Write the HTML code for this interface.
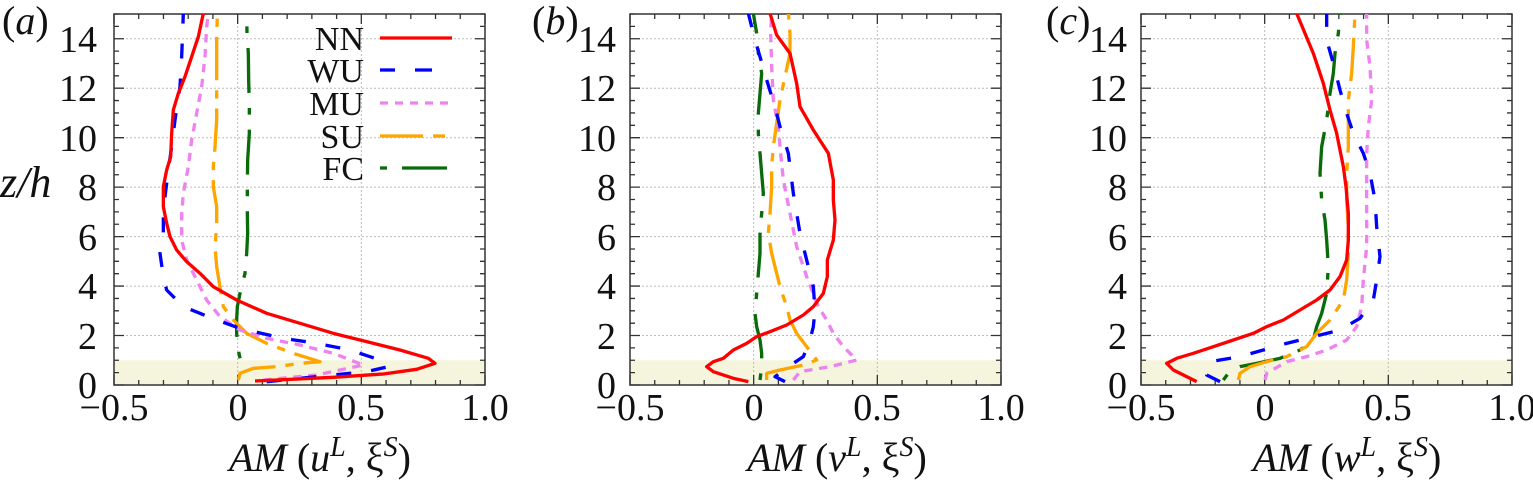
<!DOCTYPE html>
<html><head><meta charset="utf-8"><style>
html,body{margin:0;padding:0;background:#fff;}
svg{display:block;}
text{font-family:"Liberation Serif","Times New Roman",serif;fill:#111;}
.t{font-size:38px;}
.it{font-style:italic;}
</style></head><body>
<svg id="s" width="1533" height="483" viewBox="0 0 1533 483" xmlns="http://www.w3.org/2000/svg" font-family="Liberation Serif, serif">
<defs>
<clipPath id="ca"><rect x="342" y="42" width="1113" height="1113"/></clipPath>
<clipPath id="cb"><rect x="150" y="42" width="1115" height="1113"/></clipPath>
<clipPath id="cc"><rect x="122" y="42" width="1115" height="1113"/></clipPath>
</defs>
<g id="frames"></g>

<g transform="scale(0.3333333)" clip-path="url(#ca)" fill="none" stroke-linejoin="round">
<polyline stroke="#0a6b0a" stroke-width="10" stroke-dasharray="20 45 135 45" points="720,1075 715,1050 710,1000 710,960 712,920 720,880 735,820 740,760 743,700 742,640 742,560 743,480 748,400 748,320 746,240 745,160 741,100 740,40"/>
<polyline stroke="#ffa500" stroke-width="10" stroke-dasharray="130 30 25 30" points="715,1140 720,1120 760,1105 830,1100 900,1090 960,1085 880,1060 800,1030 740,1000 700,960 670,920 660,860 650,800 645,740 650,680 650,620 640,560 640,500 645,440 650,360 650,280 650,200 650,120 652,40"/>
<polyline stroke="#ee82ee" stroke-width="10" stroke-dasharray="25 20" points="790,1140 950,1125 1090,1095 1000,1060 900,1035 800,1015 720,990 660,950 620,900 590,840 560,780 545,720 545,640 550,580 565,500 575,420 590,340 605,260 615,170 620,80 625,40"/>
<polyline stroke="#0000ff" stroke-width="10" stroke-dasharray="45 60" points="800,1145 950,1130 1100,1115 1165,1100 1140,1080 1050,1050 950,1030 850,1015 720,985 650,960 550,920 500,870 490,830 480,760 490,700 490,640 495,590 505,510 515,440 525,360 540,260 545,170 550,40"/>
<polyline stroke="#ff0000" stroke-width="10" points="765,1143 1000,1132 1150,1122 1250,1108 1305,1090 1285,1075 1200,1050 1100,1025 1000,1000 900,970 800,940 710,900 640,860 600,820 560,785 530,750 510,710 500,670 490,620 490,560 500,510 512,470 515,400 520,330 535,280 555,230 575,170 595,110 610,40"/>
</g>

<g transform="translate(580,0) scale(0.3333333)" clip-path="url(#cb)" fill="none" stroke-linejoin="round">
<polyline stroke="#0a6b0a" stroke-width="10" stroke-dasharray="20 45 135 45" points="540,1140 545,1100 545,1060 540,1020 530,980 525,940 530,880 535,820 540,760 540,700 545,640 550,580 545,520 540,460 535,400 535,340 540,280 545,220 535,160 530,100 520,40"/>
<polyline stroke="#ffa500" stroke-width="10" stroke-dasharray="130 30 25 30" points="560,1140 560,1120 600,1110 670,1095 710,1080 680,1040 650,1000 630,960 620,920 600,860 575,760 565,700 570,640 575,560 575,500 580,440 590,370 600,300 615,230 630,160 630,100 625,40"/>
<polyline stroke="#ee82ee" stroke-width="10" stroke-dasharray="25 20" points="640,1140 660,1115 750,1100 830,1080 790,1040 760,1000 740,960 715,920 680,830 650,740 630,640 610,540 600,440 595,380 580,300 575,200 572,100 575,40"/>
<polyline stroke="#0000ff" stroke-width="10" stroke-dasharray="45 60" points="615,1145 585,1130 640,1090 670,1070 690,1020 700,980 705,930 700,860 680,780 660,700 640,580 625,460 600,380 585,320 560,240 540,170 525,120 505,40"/>
<polyline stroke="#ff0000" stroke-width="10" points="505,1145 460,1135 400,1115 380,1100 400,1085 430,1075 460,1050 500,1030 530,1010 570,995 620,975 670,945 700,920 730,880 742,830 742,780 760,720 765,660 760,600 760,540 745,460 700,390 660,320 650,250 630,160 590,105 570,40"/>
</g>

<g transform="translate(1100,0) scale(0.3333333)" clip-path="url(#cc)" fill="none" stroke-linejoin="round">
<polyline stroke="#0a6b0a" stroke-width="10" stroke-dasharray="20 45 135 45" points="370,1140 385,1120 420,1100 470,1090 540,1075 600,1050 640,1020 650,980 665,940 680,880 685,800 680,720 675,660 665,600 660,520 665,440 680,360 690,280 700,220 705,160 715,100 720,40"/>
<polyline stroke="#ffa500" stroke-width="10" stroke-dasharray="130 30 25 30" points="415,1140 420,1120 450,1100 500,1085 560,1070 620,1040 650,1000 690,960 730,900 740,840 745,760 745,680 740,600 740,520 745,440 745,360 745,300 755,220 760,140 765,40"/>
<polyline stroke="#ee82ee" stroke-width="10" stroke-dasharray="25 20" points="495,1140 500,1120 560,1085 620,1070 680,1050 740,1020 770,980 785,920 790,840 800,740 800,640 800,540 800,460 805,380 815,300 810,200 800,120 800,60 800,40"/>
<polyline stroke="#0000ff" stroke-width="10" stroke-dasharray="45 60" points="360,1145 320,1125 330,1085 420,1070 490,1050 560,1030 640,1010 720,990 780,955 820,900 830,840 840,770 830,680 825,600 810,520 790,460 760,400 740,340 720,270 700,190 680,120 680,40"/>
<polyline stroke="#ff0000" stroke-width="10" points="290,1145 260,1130 220,1110 200,1090 230,1075 280,1060 340,1040 400,1020 460,1000 500,980 550,960 600,930 650,900 690,870 720,830 740,780 745,720 745,640 738,560 730,500 710,400 690,330 670,250 640,160 615,100 590,40"/>
</g>

<g fill="none" stroke-width="3.3">
<line x1="380" y1="38" x2="452" y2="38" stroke="#ff0000"/>
<line x1="380" y1="70" x2="395" y2="70" stroke="#0000ff"/><line x1="415" y1="70" x2="432" y2="70" stroke="#0000ff"/>
<line x1="380" y1="103" x2="452" y2="103" stroke="#ee82ee" stroke-dasharray="8 7"/>
<line x1="380" y1="136" x2="423" y2="136" stroke="#ffa500"/><line x1="433" y1="136" x2="445" y2="136" stroke="#ffa500"/>
<line x1="380" y1="168" x2="387" y2="168" stroke="#0a6b0a"/><line x1="402" y1="168" x2="447" y2="168" stroke="#0a6b0a"/>
</g>
<g class="t" text-anchor="end" style="font-size:34px">
<text x="364" y="50">NN</text><text x="364" y="82">WU</text><text x="364" y="115">MU</text><text x="364" y="148">SU</text><text x="364" y="180">FC</text>
</g>

<g class="t" text-anchor="end">
<text x="97" y="398">0</text><text x="97" y="349">2</text><text x="97" y="299">4</text><text x="97" y="250">6</text><text x="97" y="200">8</text><text x="97" y="151">10</text><text x="97" y="101">12</text><text x="97" y="52">14</text>
<text x="616" y="398">0</text><text x="616" y="349">2</text><text x="616" y="299">4</text><text x="616" y="250">6</text><text x="616" y="200">8</text><text x="616" y="151">10</text><text x="616" y="101">12</text><text x="616" y="52">14</text>
<text x="1127" y="398">0</text><text x="1127" y="349">2</text><text x="1127" y="299">4</text><text x="1127" y="250">6</text><text x="1127" y="200">8</text><text x="1127" y="151">10</text><text x="1127" y="101">12</text><text x="1127" y="52">14</text>
</g>
<g class="t" text-anchor="middle">
<text x="114" y="420">−0.5</text><text x="238" y="420">0</text><text x="361" y="420">0.5</text><text x="485" y="420">1.0</text>
<text x="630" y="420">−0.5</text><text x="754" y="420">0</text><text x="877" y="420">0.5</text><text x="1001" y="420">1.0</text>
<text x="1141" y="420">−0.5</text><text x="1265" y="420">0</text><text x="1388" y="420">0.5</text><text x="1512" y="420">1.0</text>
</g>
<g class="t" text-anchor="middle" style="font-size:40px">
<text x="320" y="471"><tspan class="it">AM</tspan> (<tspan class="it">u</tspan><tspan class="it" dy="-15" font-size="28">L</tspan><tspan dy="15">, ξ</tspan><tspan class="it" dy="-15" font-size="28">S</tspan><tspan dy="15">)</tspan></text>
<text x="837" y="471"><tspan class="it">AM</tspan> (<tspan class="it">v</tspan><tspan class="it" dy="-15" font-size="28">L</tspan><tspan dy="15">, ξ</tspan><tspan class="it" dy="-15" font-size="28">S</tspan><tspan dy="15">)</tspan></text>
<text x="1347" y="471"><tspan class="it">AM</tspan> (<tspan class="it">w</tspan><tspan class="it" dy="-15" font-size="28">L</tspan><tspan dy="15">, ξ</tspan><tspan class="it" dy="-15" font-size="28">S</tspan><tspan dy="15">)</tspan></text>
</g>
<g class="t" style="font-size:40px">
<text x="0" y="197" class="it" style="font-size:44px">z/h</text>
<text x="2" y="34">(<tspan class="it">a</tspan>)</text>
<text x="532" y="34">(<tspan class="it">b</tspan>)</text>
<text x="1046" y="34">(<tspan class="it">c</tspan>)</text>
</g>
</svg>
<script>
(function(){
var NS="http://www.w3.org/2000/svg";
var g=document.getElementById("frames");
function el(n,a){var e=document.createElementNS(NS,n);for(var k in a)e.setAttribute(k,a[k]);g.appendChild(e);return e;}
[114,630,1141].forEach(function(L){
 var R=L+371,T=14,B=385,W=371,H=371;
 el("rect",{x:L,y:B-24.73,width:W,height:24.73,fill:"#f5f4dc"});
 for(var i=1;i<3;i++){var x=L+i*W/3;el("line",{x1:x,y1:T,x2:x,y2:B,stroke:"#bbb","stroke-width":1,"stroke-dasharray":"2 2"});}
 for(var j=1;j<=7;j++){var y=B-j*2*24.73;el("line",{x1:L,y1:y,x2:R,y2:y,stroke:"#bbb","stroke-width":1,"stroke-dasharray":"2 2"});}
 var d="";
 for(var k=0;k<=15;k++){var x=L+k*W/15;var len=(k%5==0)?10:5;d+="M"+x+" "+B+"v"+(-len)+"M"+x+" "+T+"v"+len;}
 for(var k=0;k<=30;k++){var y=B-k*H/30;var len=(k%4==0)?10:5;d+="M"+L+" "+y+"h"+len+"M"+R+" "+y+"h"+(-len);}
 el("path",{d:d,stroke:"#333","stroke-width":1.3,fill:"none"});
 el("rect",{x:L,y:T,width:W,height:H,fill:"none",stroke:"#333","stroke-width":1.5});
});
})();
</script>
</body></html>
